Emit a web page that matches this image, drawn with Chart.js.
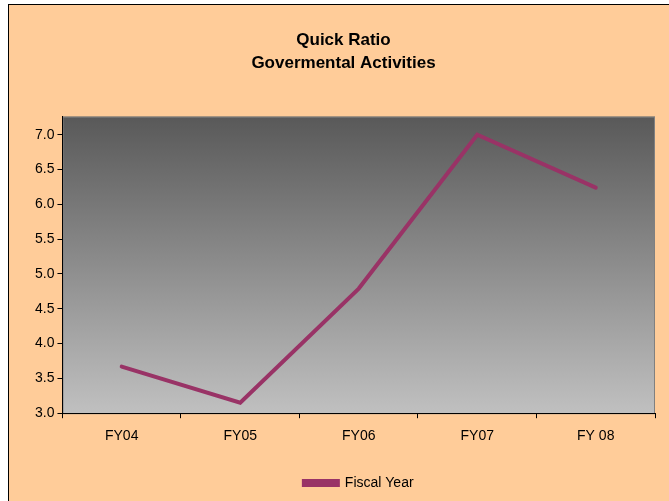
<!DOCTYPE html>
<html>
<head>
<meta charset="utf-8">
<script src="https://cdn.jsdelivr.net/npm/chart.js@4/dist/chart.umd.min.js"></script>
<style>
  html, body { margin: 0; padding: 0; background: #fff; overflow: hidden; }
  #frame {
    position: absolute; left: 8px; top: 4px;
    width: 661px; height: 497px;
    background: #FFCC99;
    border-left: 1px solid #000; border-top: 1px solid #000;
  }
  #chart { display: block; }
</style>
</head>
<body>
<div id="frame"><canvas id="chart" width="660" height="496"></canvas></div>
<script>
// chart data
var years = ["FY04", "FY05", "FY06", "FY07", "FY 08"];
var quickRatio = [3.67, 3.15, 4.79, 7.0, 6.24];
var seriesName = "Fiscal Year";
var titleLines = ["Quick Ratio", "Govermental Activities"];

var lineColor = "#993366";
var fontFam = "Liberation Sans, Arial, sans-serif";

// gradient plot background + grey frame, like the excel plot area
var plotArea = {
  id: 'plotArea',
  beforeDraw: function(chart) {
    var a = chart.chartArea, ctx = chart.ctx;
    var g = ctx.createLinearGradient(0, a.top, 0, a.bottom);
    g.addColorStop(0, "#595959");
    g.addColorStop(1, "#C0C0C0");
    ctx.save();
    ctx.fillStyle = g;
    ctx.fillRect(a.left, a.top, a.right - a.left, a.bottom - a.top);
    ctx.strokeStyle = "#808080";
    ctx.lineWidth = 1;
    ctx.strokeRect(a.left + 0.5, a.top + 0.5, a.right - a.left - 1, a.bottom - a.top);
    ctx.restore();
  }
};

var ctx = document.getElementById('chart');
var myChart = new Chart(ctx, {
  type: 'line',
  data: {
    labels: years,
    datasets: [{
      label: seriesName,
      data: quickRatio,
      borderColor: lineColor,
      backgroundColor: lineColor,
      borderWidth: 4,
      pointRadius: 0,
      tension: 0,
      borderCapStyle: 'round'
    }]
  },
  options: {
    responsive: false,
    animation: false,
    layout: {
      padding: { left: 23, right: 14, top: 0, bottom: 1 }
    },
    plugins: {
      title: {
        display: true,
        text: titleLines,
        color: "#000",
        font: { family: fontFam, size: 17, weight: 'bold', lineHeight: 1.4 },
        padding: { top: 23, bottom: 41 }
      },
      legend: {
        position: 'bottom',
        fullSize: false,
        labels: {
          color: "#000",
          boxWidth: 34,
          boxHeight: 4,
          padding: 10,
          font: { family: fontFam, size: 14 }
        }
      },
      tooltip: { enabled: false }
    },
    scales: {
      x: {
        offset: true,
        afterFit: function(scale) { scale.height += 11; },
        grid: {
          offset: true,
          drawOnChartArea: false,
          drawTicks: true,
          tickLength: 5,
          color: "#000"
        },
        border: { color: "#000", width: 1 },
        ticks: {
          color: "#000",
          padding: 10,
          font: { family: fontFam, size: 14 }
        }
      },
      y: {
        min: 3,
        max: 7.26,
        afterBuildTicks: function(scale) {
          scale.ticks = scale.ticks.filter(function(t) {
            return Math.abs(t.value * 2 - Math.round(t.value * 2)) < 1e-6;
          });
        },
        grid: {
          drawOnChartArea: false,
          drawTicks: true,
          tickLength: 5,
          color: "#000"
        },
        border: { color: "#000", width: 1 },
        ticks: {
          stepSize: 0.5,
          color: "#000",
          padding: 3,
          font: { family: fontFam, size: 14 },
          callback: function(v) { return Number(v).toFixed(1); }
        }
      }
    }
  },
  plugins: [plotArea]
});
</script>
</body>
</html>
